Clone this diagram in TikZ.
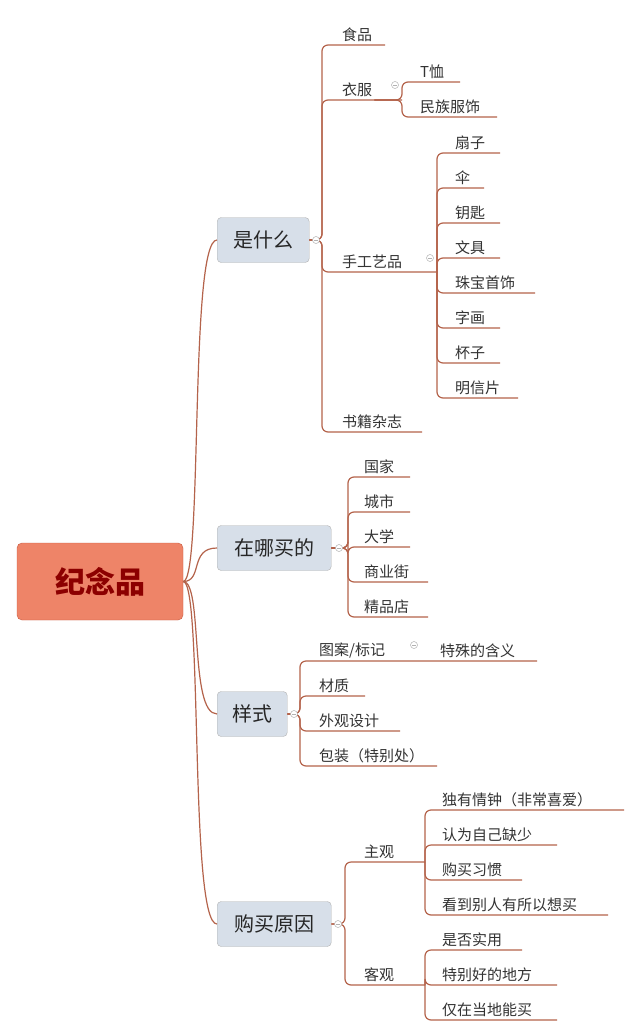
\documentclass[tikz,border=0pt]{standalone}
\usepackage{fontspec}
\usetikzlibrary{calc}
\newfontfamily\cjk{Noto Sans CJK SC}
\definecolor{brn}{HTML}{B4634B}
\definecolor{rootfill}{HTML}{EE8468}
\definecolor{rootdraw}{HTML}{C85A40}
\definecolor{lvlfill}{HTML}{D7DFE9}
\begin{document}
\begin{tikzpicture}[x=1pt,y=1pt,
 br/.style={draw=brn,line width=1.2pt,rounded corners=6pt},
 lbl/.style={font=\cjk\fontsize{15}{18}\selectfont,text=black!80,inner sep=2pt,anchor=south west},
 lvl/.style={draw=gray!60,fill=lvlfill,rounded corners=4pt,font=\cjk\fontsize{20}{24}\selectfont,text=black!85,inner sep=0pt,anchor=west,minimum height=45pt},
 col/.style={circle,draw=gray!60,fill=white,inner sep=0pt,minimum size=7pt,line width=0.5pt}]
\useasboundingbox (0,0) rectangle (644,-1036);
\fill[white] (0,0) rectangle (644,-1036);
% root
\node[draw=rootdraw,fill=rootfill,rounded corners=5pt,minimum width=166pt,minimum height=77pt,font=\cjk\bfseries\fontsize{30}{34}\selectfont,text=red!55!black] (root) at (100,-581.5) {纪念品};
% level 1
\node[lvl,minimum width=92pt] (a) at (217,-240) {是什么};
\node[lvl,minimum width=114pt] (b) at (217,-548) {在哪买的};
\node[lvl,minimum width=70pt] (c) at (217,-714) {样式};
\node[lvl,minimum width=114pt] (d) at (217,-924) {购买原因};
\foreach \n in {a,b,c,d}{\draw[br,rounded corners=0] (root.east) .. controls +(20,0) and ($(\n.west)+(-28,0)$) .. (\n.west);}
% 是什么
\foreach \u/\e in {45/385,100/402,272/437,432/422}{\draw[br] (a.east) -- (322,-240) -- (322,-\u) -- (\e,-\u);}
\node[lbl] (a1) at (340,-44) {食品};
\node[lbl] (a2) at (340,-99) {衣服};
\node[lbl] (a3) at (340,-271) {手工艺品};
\node[lbl] (a4) at (340,-431) {书籍杂志};
\foreach \u/\e in {82/460,117/497}{\draw[br] (a2.east |- 0,-100) -- (402,-100) -- (402,-\u) -- (\e,-\u);}
\node[lbl] (a21) at (418,-81) {T恤};
\node[lbl] (a22) at (418,-116) {民族服饰};
\foreach \u/\e in {153/500,188/484,223/500,258/500,293/535,328/500,363/500,398/518}{\draw[br] (437,-272) -- (437,-\u) -- (\e,-\u);}
\node[lbl] (k1) at (453,-152) {扇子};
\node[lbl] (k2) at (453,-187) {伞};
\node[lbl] (k3) at (453,-222) {钥匙};
\node[lbl] (k4) at (453,-257) {文具};
\node[lbl] (k5) at (453,-292) {珠宝首饰};
\node[lbl] (k6) at (453,-327) {字画};
\node[lbl] (k7) at (453,-362) {杯子};
\node[lbl] (k8) at (453,-397) {明信片};
% 在哪买的
\foreach \u/\e in {477/410,512/410,547/410,582/428,617/428}{\draw[br] (b.east) -- (348,-548) -- (348,-\u) -- (\e,-\u);}
\node[lbl] (b1) at (362,-476) {国家};
\node[lbl] (b2) at (362,-511) {城市};
\node[lbl] (b3) at (362,-546) {大学};
\node[lbl] (b4) at (362,-581) {商业街};
\node[lbl] (b5) at (362,-616) {精品店};
% 样式
\foreach \u/\e in {661/537,696/365,731/400,766/437}{\draw[br] (c.east) -- (300,-714) -- (300,-\u) -- (\e,-\u);}
\node[lbl] (c1) at (317,-660) {图案/标记};
\node[lbl] (c11) at (438,-660) {特殊的含义};
\node[lbl] (c2) at (317,-695) {材质};
\node[lbl] (c3) at (317,-730) {外观设计};
\node[lbl] (c4) at (317,-765) {包装（特别处）};
% 购买原因
\foreach \u in {862,985}{\draw[br] (d.east) -- (345,-924) -- (345,-\u) -- (425,-\u);}
\node[lbl] (d1) at (362,-861) {主观};
\node[lbl] (d2) at (362,-984) {客观};
\foreach \u/\e in {810/624,845/557,880/522,915/608}{\draw[br] (425,-862) -- (425,-\u) -- (\e,-\u);}
\foreach \u/\e in {950/522,985/557,1020/557}{\draw[br] (425,-985) -- (425,-\u) -- (\e,-\u);}
\node[lbl] (e1) at (440,-809) {独有情钟（非常喜爱）};
\node[lbl] (e2) at (440,-844) {认为自己缺少};
\node[lbl] (e3) at (440,-879) {购买习惯};
\node[lbl] (e4) at (440,-914) {看到别人有所以想买};
\node[lbl] (f1) at (440,-949) {是否实用};
\node[lbl] (f2) at (440,-984) {特别好的地方};
\node[lbl] (f3) at (440,-1019) {仅在当地能买};
% collapse markers
\foreach \x/\y/\nm in {316/240/m1,395/85/m2,430/258/m3,339/548/m4,294/714/m5,414/645/m6,338/924/m7}{
 \node[col] (\nm) at (\x,-\y) {}; \draw[gray!60,line width=0.5pt] (\x-2,-\y) -- (\x+2,-\y);}
\end{tikzpicture}
\end{document}
